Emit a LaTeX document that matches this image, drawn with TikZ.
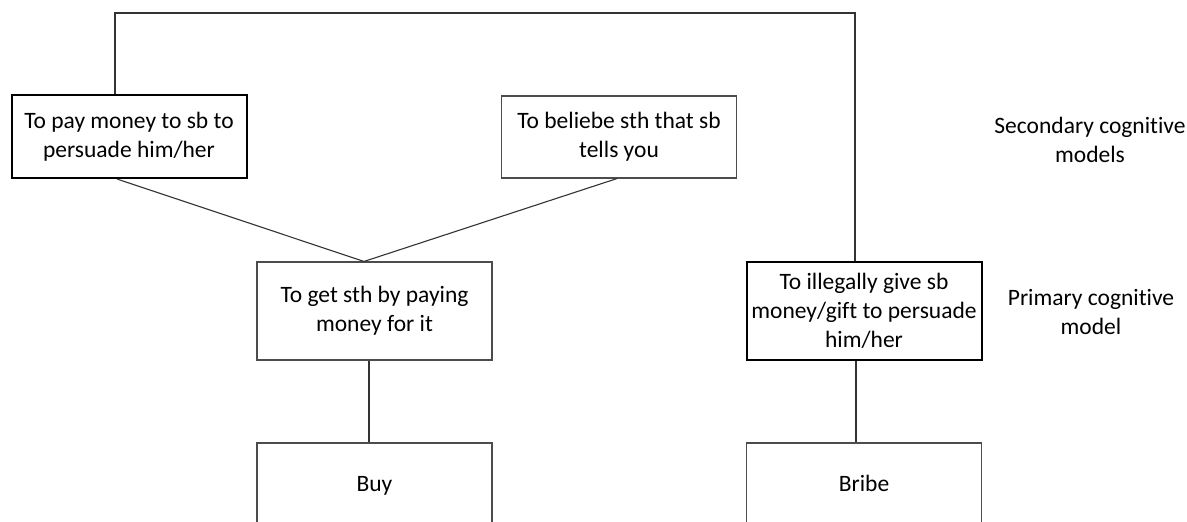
\documentclass[tikz,border=0pt]{standalone}
\usepackage{fontspec}
\setmainfont{Carlito}[Ligatures=NoCommon]
\usetikzlibrary{calc}
\begin{document}
\begin{tikzpicture}[x=1pt,y=-1pt,
  txt/.style={font=\fontsize{23.5}{29}\selectfont, align=center, text=black},
  thinbox/.style={txt, draw=black!70, line width=1.1pt, minimum width=235pt, inner sep=0pt},
  thickbox/.style={txt, draw=black, line width=2pt, minimum width=235pt, inner sep=0pt},
  conn/.style={draw=black!80, line width=1.1pt}
]
\useasboundingbox (0,0) rectangle (1187,522);
\clip (0,0) rectangle (1187,522);
\fill[white] (0,0) rectangle (1187,522);

\node[thickbox, minimum height=83pt] (A) at (129,136.5) {To pay money to sb to\\persuade him/her};
\node[thinbox, minimum height=82pt] (B) at (619,137) {To beliebe sth that sb\\tells you};
\node[thinbox, minimum height=98pt] (C) at (374.5,311) {To get sth by paying\\money for it};
\node[thickbox, minimum height=98pt] (D) at (864,311) {To illegally give sb\\money/gift to persuade\\him/her};
\node[thinbox, minimum height=86pt] (E) at (374.5,486) {\strut Buy};
\node[thinbox, minimum height=86pt] (F) at (864,486) {\strut Bribe};

\node[txt] (S) at (1090,140) {Secondary cognitive\\models};
\node[txt] (P) at (1091,312) {Primary cognitive\\model};

\coordinate (top) at (480,13);
\draw[conn] ([xshift=-14pt]A.north) |- (top) -| ([xshift=-9pt]D.north);
\draw[conn] ([xshift=-12pt]A.south) -- ([xshift=-10.5pt]C.north);
\draw[conn] ([xshift=-2pt]B.south) -- ([xshift=-10.5pt]C.north);
\draw[conn] ([xshift=-5.5pt]C.south) -- ([xshift=-5.5pt]E.north);
\draw[conn] ([xshift=-8pt]D.south) -- ([xshift=-8pt]F.north);
\end{tikzpicture}
\end{document}
